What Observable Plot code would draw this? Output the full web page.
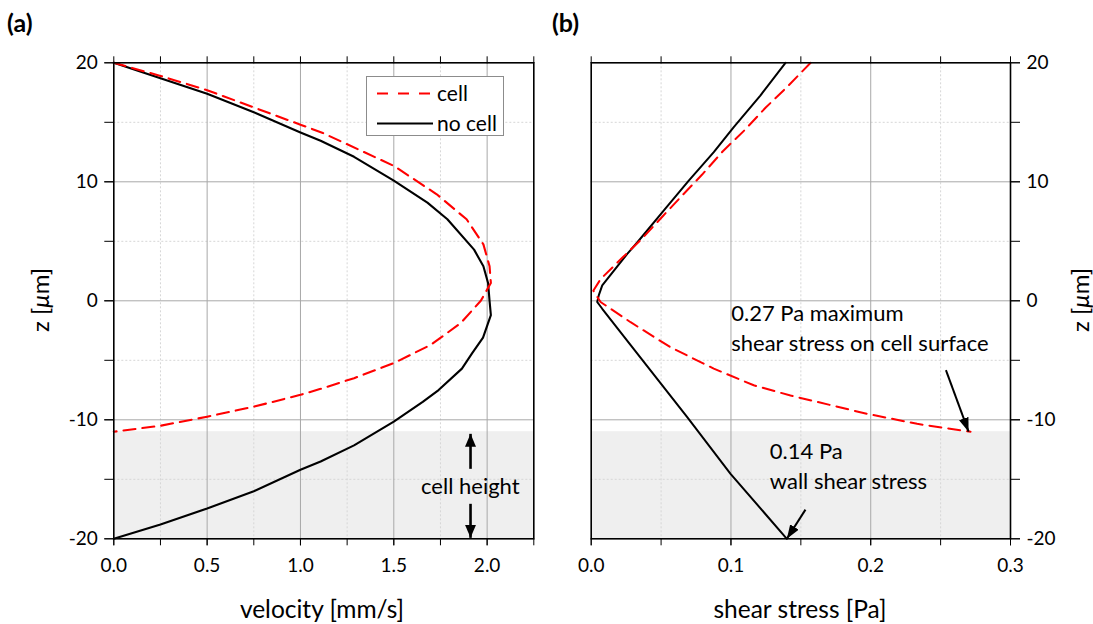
<!DOCTYPE html>
<html><head><meta charset="utf-8">
<script src="https://cdn.jsdelivr.net/npm/d3@7"></script>
<script src="https://cdn.jsdelivr.net/npm/@observablehq/plot@0.6"></script>
<style>
body{margin:0;background:#fff;}
#wrap{position:relative;width:1093px;height:624px;font-family:Lato,sans-serif;color:#000;overflow:hidden;background:#fff}
.abs{position:absolute;white-space:nowrap;line-height:1}
.vert{position:absolute;white-space:nowrap;line-height:1;writing-mode:vertical-rl;transform:translate(-50%,-50%) rotate(180deg)}
.plot{position:absolute;top:0}
</style></head><body><div id="wrap"></div>
<script>
// ---- data: panel (a) velocity profile ----
const zVelNoCell = [20, 18.7, 17.4, 15.85, 14.15, 13.45, 12.1, 10.1, 8.25, 6.85, 4.3, 2.9, 1.5, 0, -1.2, -3.1, -4.4, -5.7, -7.5, -8.5, -10.15, -12.15, -13.5, -14.2, -16.0, -17.45, -18.8, -20];
const vVelNoCell = [0, 0.25, 0.5, 0.75, 1.0, 1.108, 1.287, 1.5, 1.68, 1.787, 1.93, 1.98, 2.005, 2.013, 2.02, 1.978, 1.92, 1.865, 1.74, 1.655, 1.5, 1.287, 1.108, 1.0, 0.75, 0.5, 0.25, 0];
const zVelCell = [20, 18.9, 17.7, 14.8, 14.1, 11.34, 8.95, 6.85, 4.74, 2.9, 1.5, 0, -1.87, -3.7, -5.24, -6.5, -7.4, -7.9, -8.9, -9.74, -10.5, -11];
const vVelCell = [0, 0.25, 0.5, 1.0, 1.12, 1.5, 1.73, 1.89, 1.98, 2.013, 2.02, 1.966, 1.859, 1.698, 1.5, 1.287, 1.108, 1.0, 0.75, 0.5, 0.25, 0];
// ---- data: panel (b) shear stress ----
const zShearNoCell = [20, 17.25, 14.6, 12.5, 10.1, 7.6, 4.9, 3.95, 1.3, 0.45, -0.1, -0.67, -3.7, -9.78, -14.54, -20];
const sShearNoCell = [0.139, 0.121, 0.102, 0.0877, 0.0698, 0.052, 0.0329, 0.0258, 0.0079, 0.0054, 0.0043, 0.0079, 0.0281, 0.0687, 0.0997, 0.14];
const zShearCell = [20, 18.03, 16.22, 14.31, 12.57, 10.61, 8.85, 7.11, 5.29, 3.61, 1.85, 0.85, -0.1, -1.8, -3.9, -5.7, -7.1, -7.96, -9.5, -10.34, -11];
const sShearCell = [0.157, 0.1407, 0.1247, 0.1095, 0.0942, 0.0794, 0.0651, 0.0512, 0.0369, 0.0222, 0.0069, 0.0015, 0.0067, 0.0282, 0.0567, 0.0877, 0.1163, 0.1426, 0.1975, 0.2332, 0.2714];
// ---- axes / ticks ----
const zDomain = [-20, 20];
const vDomain = [0, 2.25];
const sDomain = [0, 0.3];
const zTicksAll = [-20, -15, -10, -5, 0, 5, 10, 15, 20];
const zTickLabels = [-20, -10, 0, 10, 20];
const zGridMajor = [-10, 0, 10];
const zGridMinor = [-15, -5, 5, 15];
const vTicksAll = [0, 0.25, 0.5, 0.75, 1.0, 1.25, 1.5, 1.75, 2.0, 2.25];
const vTickLabels = [0, 0.5, 1.0, 1.5, 2.0];
const vGridMajor = [0.5, 1.0, 1.5, 2.0];
const vGridMinor = [0.25, 0.75, 1.25, 1.75];
const sTicksAll = [0, 0.05, 0.1, 0.15, 0.2, 0.25, 0.3];
const sTickLabels = [0, 0.1, 0.2, 0.3];
const sGridMajor = [0.1, 0.2];
const sGridMinor = [0.05, 0.15, 0.25];
// ---- cell region & annotations ----
const cellRegion = {zBottom: -20, zTop: -11};
const cellHeightArrows = [
  {x1: 1.911, y1: -14.12, x2: 1.911, y2: -11.18},
  {x1: 1.911, y1: -17.06, x2: 1.911, y2: -19.92}
];
const cellHeightLabel = {x: 1.91, y: -15.63, text: "cell height"};
const shearArrows = [
  {x1: 0.2538, y1: -5.83, x2: 0.27, y2: -11},
  {x1: 0.1533, y1: -17.55, x2: 0.14, y2: -20}
];
const shearLabels = [
  {x: 0.1002, y: -1.13, text: "0.27 Pa maximum"},
  {x: 0.1002, y: -3.59, text: "shear stress on cell surface"},
  {x: 0.1278, y: -12.69, text: "0.14 Pa"},
  {x: 0.1278, y: -15.21, text: "wall shear stress"}
];

const toRows = (xs, ys) => xs.map((x, i) => ({x, y: ys[i]}));
const RED = "#ff0000";
const DASH = "12,7";

function arrowMarker(len, halfW) {
  return function (color, context) {
    const ns = "http://www.w3.org/2000/svg";
    const doc = (context && context.document) || document;
    const m = doc.createElementNS(ns, "marker");
    m.setAttribute("viewBox", `${-len} ${-halfW} ${len} ${2 * halfW}`);
    m.setAttribute("markerWidth", len);
    m.setAttribute("markerHeight", 2 * halfW);
    m.setAttribute("markerUnits", "userSpaceOnUse");
    m.setAttribute("refX", 0);
    m.setAttribute("refY", 0);
    m.setAttribute("orient", "auto");
    const p = doc.createElementNS(ns, "path");
    p.setAttribute("d", `M${-len},${-halfW}L0,0L${-len},${halfW}Z`);
    p.setAttribute("fill", "black");
    p.setAttribute("stroke", "none");
    m.appendChild(p);
    return m;
  };
}

const common = {
  height: 624,
  marginTop: 62.3,
  marginBottom: 85.7,
  y: {domain: zDomain, nice: false},
  style: {fontFamily: "Lato, sans-serif", fontSize: "19px", color: "black", background: "transparent", overflow: "visible"}
};
const fmtZ = d => String(d);
const fmt1 = d => d.toFixed(1);
const none = () => "";

const plotA = Plot.plot({
  ...common,
  width: 560,
  marginLeft: 113.3,
  marginRight: 26.7,
  x: {domain: vDomain, nice: false},
  marks: [
    Plot.rect([{x1: vDomain[0], x2: vDomain[1], y1: cellRegion.zBottom, y2: cellRegion.zTop}], {x1: "x1", x2: "x2", y1: "y1", y2: "y2", fill: "#efefef"}),
    Plot.ruleX(vGridMinor, {stroke: "#d6d6d6", strokeDasharray: "2,2"}),
    Plot.ruleY(zGridMinor, {stroke: "#d6d6d6", strokeDasharray: "2,2"}),
    Plot.ruleX(vGridMajor, {stroke: "#a8a8a8"}),
    Plot.ruleY(zGridMajor, {stroke: "#a8a8a8"}),
    Plot.line(toRows(vVelNoCell, zVelNoCell), {x: "x", y: "y", stroke: "black", strokeWidth: 2.1}),
    Plot.line(toRows(vVelCell, zVelCell), {x: "x", y: "y", stroke: RED, strokeWidth: 2.1, strokeDasharray: DASH}),
    Plot.link(cellHeightArrows, {x1: "x1", y1: "y1", x2: "x2", y2: "y2", stroke: "black", strokeWidth: 2.6, markerEnd: arrowMarker(13, 5.5)}),
    Plot.text([cellHeightLabel], {x: "x", y: "y", text: "text", fontSize: 22, textAnchor: "middle", lineAnchor: "middle", fill: "black"}),
    Plot.frame({stroke: "black", strokeWidth: 1.6}),
    Plot.axisX({anchor: "bottom", ticks: vTicksAll, tickSize: 7, tickFormat: none, label: null}),
    Plot.axisX({anchor: "bottom", ticks: vTickLabels, tickSize: 7, tickPadding: 13, tickFormat: fmt1, label: null, fontSize: 19}),
    Plot.axisX({anchor: "top", ticks: vTicksAll, tickSize: 7, tickFormat: none, label: null}),
    Plot.axisY({anchor: "left", ticks: zTicksAll, tickSize: 9, tickFormat: none, label: null}),
    Plot.axisY({anchor: "left", ticks: zTickLabels, tickSize: 9, tickPadding: 7, tickFormat: fmtZ, label: null, fontSize: 19})
  ]
});

const plotB = Plot.plot({
  ...common,
  width: 533,
  marginLeft: 30.7,
  marginRight: 83,
  x: {domain: sDomain, nice: false},
  marks: [
    Plot.rect([{x1: sDomain[0], x2: sDomain[1], y1: cellRegion.zBottom, y2: cellRegion.zTop}], {x1: "x1", x2: "x2", y1: "y1", y2: "y2", fill: "#efefef"}),
    Plot.ruleX(sGridMinor, {stroke: "#d6d6d6", strokeDasharray: "2,2"}),
    Plot.ruleY(zGridMinor, {stroke: "#d6d6d6", strokeDasharray: "2,2"}),
    Plot.ruleX(sGridMajor, {stroke: "#a8a8a8"}),
    Plot.ruleY(zGridMajor, {stroke: "#a8a8a8"}),
    Plot.line(toRows(sShearNoCell, zShearNoCell), {x: "x", y: "y", stroke: "black", strokeWidth: 2}),
    Plot.line(toRows(sShearCell, zShearCell), {x: "x", y: "y", stroke: RED, strokeWidth: 2, strokeDasharray: DASH}),
    Plot.link(shearArrows, {x1: "x1", y1: "y1", x2: "x2", y2: "y2", stroke: "black", strokeWidth: 2, markerEnd: arrowMarker(14, 5)}),
    Plot.text(shearLabels, {x: "x", y: "y", text: "text", fontSize: 22, textAnchor: "start", lineAnchor: "middle", fill: "black"}),
    Plot.frame({stroke: "black", strokeWidth: 1.6}),
    Plot.axisX({anchor: "bottom", ticks: sTicksAll, tickSize: 7, tickFormat: none, label: null}),
    Plot.axisX({anchor: "bottom", ticks: sTickLabels, tickSize: 7, tickPadding: 13, tickFormat: fmt1, label: null, fontSize: 19}),
    Plot.axisX({anchor: "top", ticks: sTicksAll, tickSize: 7, tickFormat: none, label: null}),
    Plot.axisY({anchor: "right", ticks: zTicksAll, tickSize: 9, tickFormat: none, label: null}),
    Plot.axisY({anchor: "right", ticks: zTickLabels, tickSize: 9, tickPadding: 7, tickFormat: fmtZ, label: null, fontSize: 19})
  ]
});

const wrap = document.getElementById("wrap");
plotA.classList.add("plot"); plotA.style.left = "0px";
plotB.classList.add("plot"); plotB.style.left = "560px";
wrap.appendChild(plotA);
wrap.appendChild(plotB);

function addText(html, left, top, css, cls) {
  const d = document.createElement("div");
  d.className = cls || "abs";
  d.innerHTML = html;
  d.style.left = left + "px";
  d.style.top = top + "px";
  Object.assign(d.style, css || {});
  wrap.appendChild(d);
  return d;
}
// panel letters
addText("(a)", 7, 22, {fontWeight: "bold", fontSize: "25px", transform: "translateY(-50%)"});
addText("(b)", 552, 22, {fontWeight: "bold", fontSize: "25px", transform: "translateY(-50%)"});
// axis titles
addText("velocity [mm/s]", 322, 609, {fontSize: "24.5px", transform: "translate(-50%,-50%)"});
addText("shear stress [Pa]", 800, 609, {fontSize: "24.5px", transform: "translate(-50%,-50%)"});
addText("z [<i>μ</i>m]", 40, 300, {fontSize: "24px"}, "vert");
addText("z [<i>μ</i>m]", 1080, 300, {fontSize: "24px"}, "vert");

// legend (panel a)
const leg = document.createElement("div");
leg.className = "abs";
Object.assign(leg.style, {left: "366px", top: "76px", width: "138px", height: "60px", border: "1px solid #8c8c8c", background: "#fff", boxSizing: "border-box"});
leg.innerHTML = `
<svg width="138" height="60" style="position:absolute;left:-1px;top:-1px">
  <line x1="11" x2="67" y1="17.5" y2="17.5" stroke="${RED}" stroke-width="2" stroke-dasharray="11,10"/>
  <line x1="11" x2="67" y1="47.5" y2="47.5" stroke="black" stroke-width="2"/>
  <text x="71" y="24.5" font-family="Lato, sans-serif" font-size="21">cell</text>
  <text x="71" y="54.5" font-family="Lato, sans-serif" font-size="21">no cell</text>
</svg>`;
wrap.appendChild(leg);
</script>
</body></html>
